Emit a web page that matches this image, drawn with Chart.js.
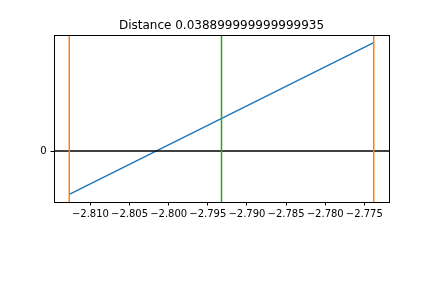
<!DOCTYPE html>
<html lang="en">
<head>
<meta charset="UTF-8">
<title>Distance</title>
<script src="https://cdn.jsdelivr.net/npm/chart.js@4"></script>
<style>
  html, body { margin: 0; padding: 0; background: #fff; }
  #wrap { width: 432px; height: 288px; }
</style>
</head>
<body>
<div id="wrap"><canvas id="chart" width="432" height="288"></canvas></div>
<script>
// line end points
const lineX = [-2.8127, -2.7738];
const lineY = [-0.0111, 0.0278];
// vertical markers
const edgeX = [-2.8127, -2.7738];
const midX = -2.79325;
// axis limits and ticks
const xLimits = [-2.81465, -2.77185];
const yLimits = [-0.013045, 0.029745];
const xTicks = [-2.810, -2.805, -2.800, -2.795, -2.790, -2.785, -2.780, -2.775];
const yTicks = [0];
const titleText = 'Distance 0.038899999999999935';

Chart.defaults.font.family = "'DejaVu Sans'";
Chart.defaults.font.size = 10;
Chart.defaults.color = '#000';

function vline(x, color, order) {
  return {
    data: [{ x: x, y: yLimits[0] }, { x: x, y: yLimits[1] }],
    borderColor: color, borderWidth: 1.5, pointRadius: 0, showLine: true, order: order
  };
}

const frame = {
  id: 'frame',
  afterDatasetsDraw(chart) {
    const a = chart.chartArea, c = chart.ctx;
    c.save();
    c.strokeStyle = '#000';
    c.lineWidth = 1;
    c.strokeRect(Math.round(a.left) + 0.5, Math.round(a.top) + 0.5,
                 Math.round(a.right - a.left), Math.round(a.bottom - a.top));
    c.restore();
  }
};

new Chart(document.getElementById('chart'), {
  type: 'scatter',
  data: {
    datasets: [
      {
        data: lineX.map((x, i) => ({ x: x, y: lineY[i] })),
        borderColor: '#1f77b4', borderWidth: 1.5, pointRadius: 0, showLine: true, order: 4
      },
      {
        data: [{ x: xLimits[0], y: 0 }, { x: xLimits[1], y: 0 }],
        borderColor: '#000', borderWidth: 1.5, pointRadius: 0, showLine: true, order: 3
      },
      vline(edgeX[0], '#ff7f0e', 2),
      vline(edgeX[1], '#ff7f0e', 2),
      vline(midX, '#2ca02c', 1)
    ]
  },
  options: {
    responsive: false,
    animation: false,
    layout: { padding: { left: 0, right: 43, top: 0, bottom: 0 } },
    plugins: {
      legend: { display: false },
      tooltip: { enabled: false },
      title: {
        display: true, text: titleText, color: '#000', fullSize: false,
        font: { size: 12, weight: 'normal' },
        padding: { top: 19, bottom: 1.6 }
      }
    },
    scales: {
      x: {
        type: 'linear', min: xLimits[0], max: xLimits[1],
        afterBuildTicks: s => { s.ticks = xTicks.map(v => ({ value: v })); },
        afterFit: s => { s.height = 86; },
        grid: { drawOnChartArea: false, drawTicks: true, tickLength: 3.5, color: '#000' },
        border: { display: true, color: '#000' },
        ticks: {
          color: '#000', padding: 3, maxRotation: 0, autoSkip: false,
          callback: v => v.toFixed(3).replace('-', '\u2212')
        }
      },
      y: {
        min: yLimits[0], max: yLimits[1],
        afterBuildTicks: s => { s.ticks = yTicks.map(v => ({ value: v })); },
        afterFit: s => { s.width = 54; },
        grid: { drawOnChartArea: false, drawTicks: true, tickLength: 3.5, color: '#000' },
        border: { display: true, color: '#000' },
        ticks: { color: '#000', padding: 4, callback: v => String(v) }
      }
    }
  },
  plugins: [frame]
});
</script>
</body>
</html>
